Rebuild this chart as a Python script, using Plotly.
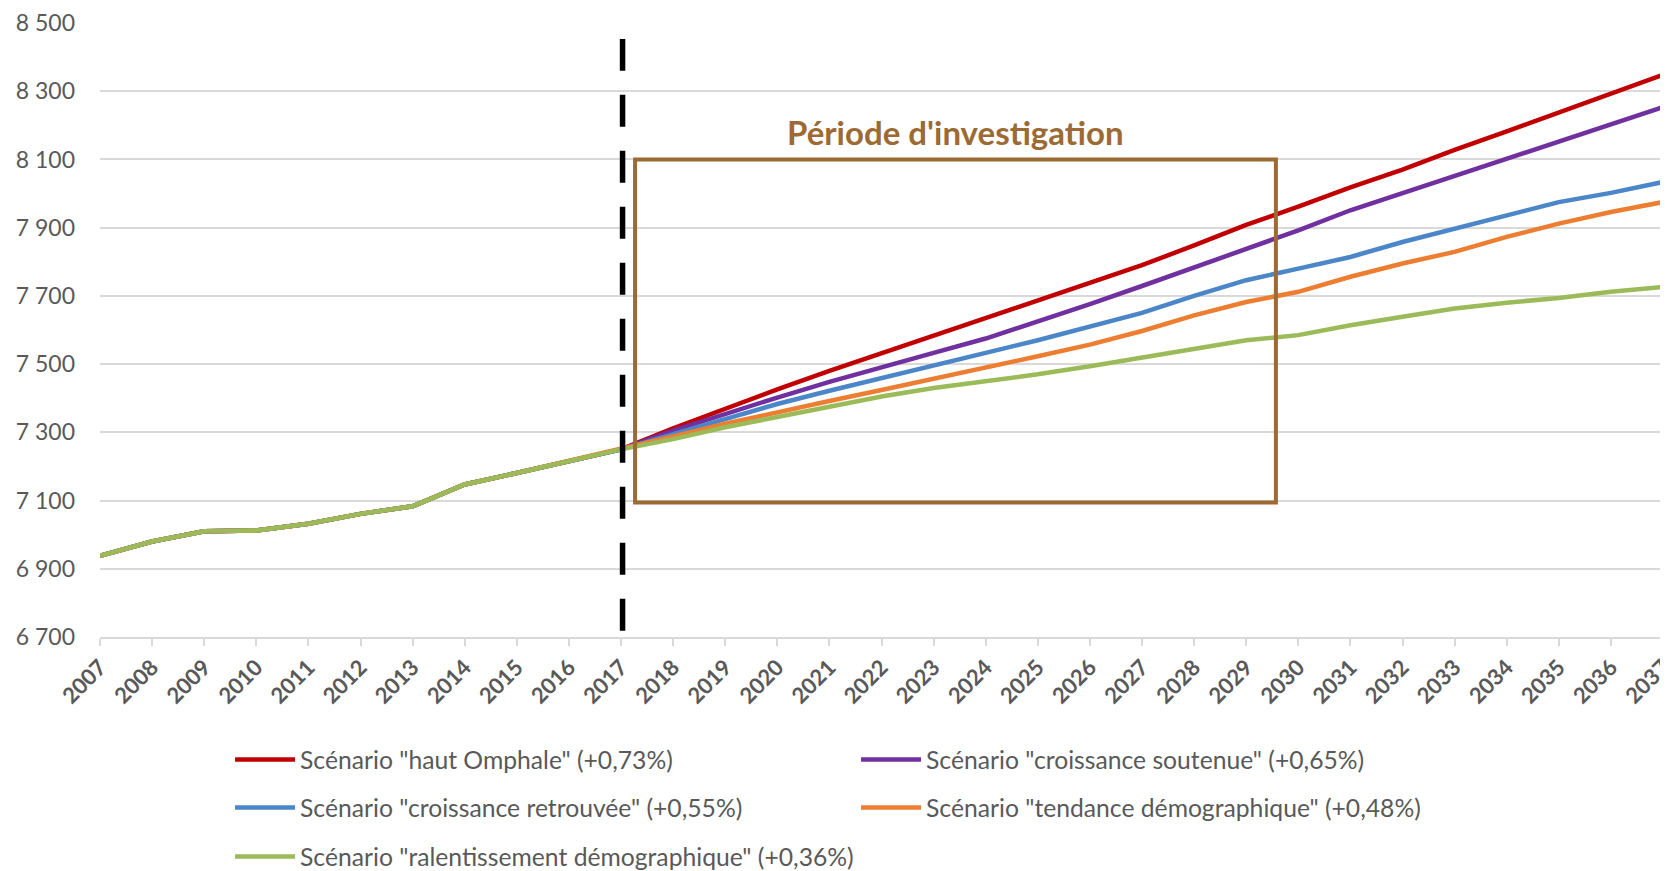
import plotly.graph_objects as go

annees = list(range(2007, 2038))
tick_labels = [str(a) for a in annees]

# population observée 2007-2017 (commune à tous les scénarios)
historique = [6938, 6980, 7010, 7012, 7032, 7061, 7083, 7147, 7181, 7216, 7250]

# projections 2018-2037
haut_omphale = [7312, 7370, 7426, 7480, 7532, 7582, 7634, 7686, 7737, 7790,
                7848, 7908, 7962, 8018, 8070, 8128, 8182, 8237, 8294, 8348]
croissance_soutenue = [7305, 7355, 7402, 7448, 7492, 7533, 7575, 7624, 7676, 7729,
                       7783, 7836, 7892, 7951, 8001, 8052, 8102, 8152, 8203, 8253]
croissance_retrouvee = [7295, 7340, 7383, 7422, 7460, 7497, 7533, 7570, 7609, 7650,
                        7700, 7746, 7780, 7814, 7858, 7897, 7936, 7975, 8002, 8034]
tendance_demo = [7288, 7325, 7360, 7392, 7424, 7456, 7490, 7523, 7557, 7597,
                 7643, 7682, 7712, 7756, 7795, 7829, 7873, 7912, 7946, 7975]
ralentissement_demo = [7280, 7315, 7345, 7375, 7405, 7430, 7450, 7470, 7494, 7519,
                       7546, 7570, 7585, 7614, 7639, 7663, 7680, 7694, 7712, 7726]

noms = [
    'Scénario "haut Omphale" (+0,73%)',
    'Scénario "croissance soutenue" (+0,65%)',
    'Scénario "croissance retrouvée" (+0,55%)',
    'Scénario "tendance démographique" (+0,48%)',
    'Scénario "ralentissement démographique" (+0,36%)',
]
couleurs = ["#C00000", "#7030A0", "#4A86C8", "#ED7D31", "#9BBB59"]
projections = [haut_omphale, croissance_soutenue, croissance_retrouvee,
               tendance_demo, ralentissement_demo]
legendes = ["legend", "legend", "legend2", "legend2", "legend3"]

GRIS = "#595959"
GRILLE = "#D9D9D9"
BRUN = "#9C6A34"
FONT = "Lato, 'Open Sans', sans-serif"

# la page ajoute une marge de 8 px autour de la figure
W, H = 1660, 863

fig = go.Figure()
for nom, couleur, proj, leg in zip(noms, couleurs, projections, legendes):
    fig.add_trace(go.Scatter(
        x=annees, y=historique + proj, name=nom, mode="lines",
        line=dict(color=couleur, width=4.5), legend=leg,
    ))

# séparation observé / projeté
fig.add_shape(type="line", x0=2017.03, x1=2017.03, y0=6718, y1=8453,
              line=dict(color="black", width=5.5, dash="32px,24px"))

# période d'investigation
fig.add_shape(type="rect", x0=2017.27, x1=2029.57, y0=7094, y1=8100,
              line=dict(color=BRUN, width=4))
fig.add_annotation(x=2023.42, y=8181, text="<b>Période d'investigation</b>",
                   showarrow=False, font=dict(family=FONT, size=33, color=BRUN))

legende_base = dict(orientation="h", xanchor="left", yanchor="middle",
                    yref="container", x=0.0832, entrywidth=551, entrywidthmode="pixels",
                    itemwidth=60,
                    font=dict(family=FONT, size=24.7, color=GRIS),
                    bgcolor="rgba(0,0,0,0)", itemclick=False)

fig.update_layout(
    width=W, height=H,
    margin=dict(l=92, r=5, t=15, b=234),
    paper_bgcolor="white", plot_bgcolor="white",
    separators=", ",
    font=dict(family=FONT, color=GRIS),
    showlegend=True,
    legend=dict(legende_base, y=1 - 752 / H),
    legend2=dict(legende_base, y=1 - 800 / H),
    legend3=dict(legende_base, y=1 - 849 / H),
    xaxis=dict(
        range=[2007, 2037], tickmode="array", tickvals=annees, ticktext=tick_labels,
        tickangle=-45, tickfont=dict(family=FONT, size=22, color=GRIS, weight="bold"),
        ticks="outside", ticklen=7, tickcolor=GRILLE, tickwidth=1.5,
        ticklabeloverflow="allow",
        showgrid=False, showline=True, linecolor=GRILLE, linewidth=1.5,
        zeroline=False, automargin=False,
    ),
    yaxis=dict(
        range=[6700, 8500], dtick=200, tick0=6700, tickformat=",d",
        tickfont=dict(family=FONT, size=23, color=GRIS),
        showgrid=True, gridcolor=GRILLE, gridwidth=1.5,
        showline=False, zeroline=False, ticks="", ticklabelstandoff=24,
        automargin=False,
    ),
)

fig.write_html("out.html")
